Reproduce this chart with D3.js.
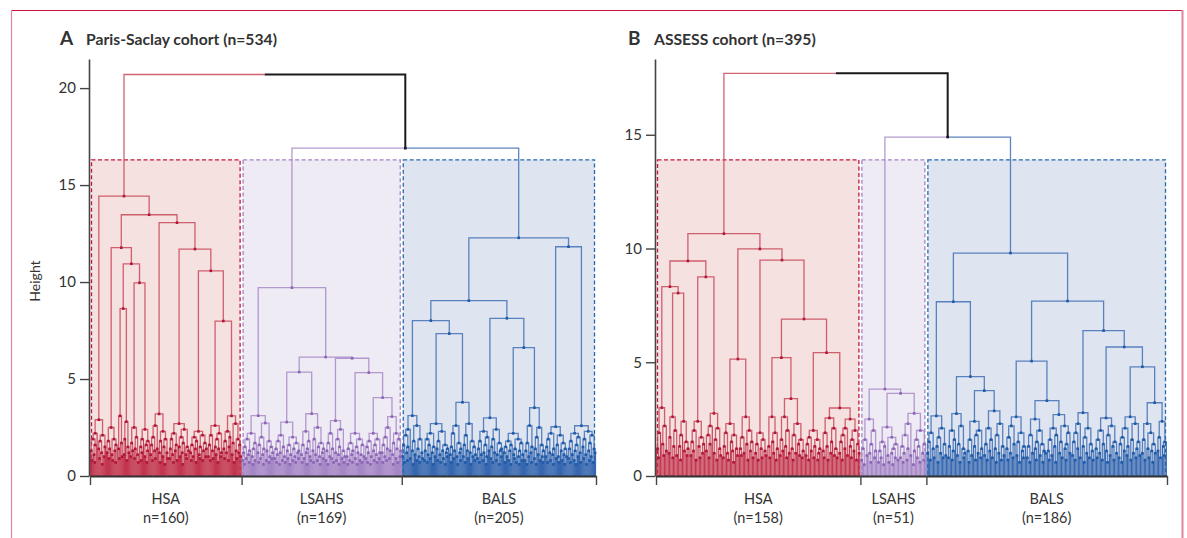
<!DOCTYPE html>
<html>
<head>
<meta charset="utf-8">
<script src="https://cdn.jsdelivr.net/npm/d3@7"></script>
<style>
  body { margin: 0; background: #fff; }
  text { font-family: Lato, "Noto Sans", sans-serif; fill: #333; }
</style>
</head>
<body>
<script>
'use strict';

// ---- data ----------------------------------------------------------------
// every dendrogram is stored as merge heights between neighbouring leaves
// (leaf order), grouped by the small bottom clusters

// panel A : Paris-Saclay cohort
const clustersA = ["HSA", "LSAHS", "BALS"];
const countLabelsA = ["n=160)", "(n=169)", "(n=205)"];
const joinsA = [20.7, 16.9];
const boxTopA = 16.3;
const yTicksA = [0, 5, 10, 15, 20];

const hsaSplitsA = [14.43, 11.77, 8.63, 10.94, 9.96, 13.47, 13.06, 11.7, 10.58, 7.99];
const hsaLowA = [
  [1.3, 0.8, 1.9, 1.1, 0.7, 1.6, 2.2, 2.9, 1.4, 0.9, 1.8, 1.2, 0.6, 2.1, 1.0, 1.5],
  [1.2, 1.8, 0.9, 1.4, 2.5, 1.1, 0.8, 1.9, 1.3, 0.7, 1.6],
  [1.4, 0.9, 3.1, 1.7, 1.0],
  [1.1, 1.9, 2.8, 0.8, 1.5, 1.2],
  [1.0, 1.7, 1.3, 2.5, 0.9, 1.4, 2.0, 1.1, 0.7],
  [1.5, 0.8, 1.2, 1.9, 2.4, 1.0, 1.6, 0.7, 1.3, 1.8],
  [1.1, 1.6, 0.8, 2.0, 1.3, 0.9, 2.6, 1.4, 3.2, 1.2, 0.7, 1.8, 2.3, 1.0, 1.5, 0.6, 1.9, 1.2, 0.9],
  [0.9, 1.4, 1.9, 1.1, 0.7, 2.2, 1.3, 1.6, 0.8, 2.7, 1.5, 1.0, 2.0, 1.2, 0.6, 1.7, 2.4, 1.1, 0.9, 1.5, 1.3],
  [1.2, 0.8, 1.6, 1.0, 2.0, 1.4, 0.7, 1.8, 2.3, 1.1, 0.9, 1.5, 2.1, 0.8, 1.3, 1.7, 1.0, 1.4],
  [1.0, 1.6, 0.8, 2.1, 1.3, 0.9, 2.6, 1.5, 1.1, 1.9, 0.7, 1.4, 2.2, 1.0, 1.2],
  [1.4, 0.9, 1.8, 1.2, 2.3, 0.8, 1.5, 2.0, 3.1, 1.1, 1.7, 0.7, 2.7, 1.3, 0.9, 1.9, 1.2, 1.6, 1.0]
];

const lsahsSplitsA = [9.71, 5.36, 6.13, 6.07, 5.33, 4.04];
const lsahsLowA = [
  [0.8, 1.2, 0.6, 1.5, 0.9, 1.9, 1.1, 0.7, 1.3, 2.2, 1.0, 0.6, 1.4, 0.8, 1.7, 3.11, 1.2, 0.7, 1.6, 0.9, 2.0, 1.1, 0.6, 1.4, 2.73, 0.8, 1.3, 1.8, 0.7, 1.0, 1.5, 0.9, 1.2],
  [0.9, 1.4, 0.7, 1.1, 1.8, 0.6, 1.2, 2.1, 0.8, 1.5, 1.0, 0.7, 2.78, 1.3, 0.9, 1.6, 0.6, 1.1, 2.0, 0.8, 1.4, 1.0, 0.7, 1.7, 1.2, 0.9, 1.3],
  [1.1, 0.7, 1.6, 0.9, 2.3, 1.2, 0.6, 1.4, 1.8, 1.0, 0.8, 3.21, 1.3, 0.7, 1.9, 1.1, 2.5, 0.8, 1.5, 1.0, 0.6, 1.7, 1.2, 0.9, 1.4],
  [0.8, 1.3, 0.6, 1.7, 1.0, 2.2, 0.9, 1.4, 0.7, 2.85, 1.2, 0.8, 1.9, 1.1, 0.6, 1.5, 2.4, 0.9, 1.3, 0.7, 1.0],
  [1.0, 0.6, 1.4, 0.8, 1.7, 1.1, 0.7, 1.3, 2.2, 0.9, 1.5, 0.6, 1.2, 1.9, 0.8, 1.1, 0.7, 1.6, 1.0],
  [0.9, 1.5, 0.7, 1.2, 1.8, 0.6, 1.0, 2.2, 1.3, 0.8, 1.6, 1.1, 0.7, 1.9, 0.9, 1.2],
  [1.2, 0.7, 1.6, 1.0, 2.0, 0.8, 1.4, 2.5, 0.9, 1.3, 3.06, 1.1, 0.6, 1.7, 2.2, 0.9, 1.4, 0.7, 1.9, 1.0, 1.3]
];

const balsSplitsA = [8.01, 7.34, 9.04, 8.13, 6.62, 12.28, 11.82];
const balsLowA = [
  [1.0, 1.6, 0.7, 2.1, 1.2, 0.8, 1.5, 2.4, 0.9, 3.11, 1.3, 0.6, 1.8, 1.1, 2.6, 0.8, 1.4, 1.0, 0.7, 1.9, 1.2, 0.9],
  [0.8, 1.3, 1.9, 0.7, 1.1, 1.6, 0.9, 2.2, 1.2, 0.6, 1.5, 1.0, 2.7, 1.4, 0.8, 1.8, 1.1, 0.7, 2.3, 1.3, 0.9, 1.6, 0.6, 1.2, 1.0, 1.4],
  [1.1, 0.7, 1.5, 2.2, 0.9, 1.3, 2.6, 1.0, 0.6, 1.7, 1.2, 0.8, 1.4, 3.8, 1.0, 1.6, 0.7, 2.1, 1.3, 0.9, 2.7, 1.2, 0.6, 1.8, 1.0, 1.5, 0.8, 1.1],
  [0.9, 1.4, 0.7, 1.8, 1.1, 2.3, 0.8, 1.2, 1.6, 0.6, 1.0, 2.0, 1.3, 3.0, 0.9, 1.5, 0.7, 1.9, 1.2, 2.4, 0.8, 1.1, 1.7, 0.6, 1.3, 1.0, 1.4],
  [1.2, 0.7, 1.5, 1.0, 1.8, 0.8, 1.3, 0.6, 1.6, 2.2, 1.1, 0.9, 1.4, 0.7, 1.9, 1.0, 0.6, 1.3, 1.7, 0.8, 1.1],
  [0.8, 1.3, 0.6, 1.7, 1.0, 2.6, 1.2, 0.7, 1.5, 3.52, 0.9, 1.4, 0.6, 2.0, 1.1, 2.5, 0.8, 1.6, 1.0, 0.7, 1.3],
  [1.0, 1.5, 0.7, 1.9, 1.2, 0.8, 2.2, 1.1, 0.6, 1.4, 2.54, 0.9, 1.6, 1.0, 0.7, 2.1, 1.3, 0.8, 1.7, 1.1, 0.6, 1.4, 1.0],
  [0.9, 1.4, 0.7, 1.8, 1.1, 2.2, 0.8, 1.3, 0.6, 1.6, 1.0, 2.0, 1.2, 0.7, 2.59, 1.5, 0.9, 1.9, 1.1, 0.6, 2.3, 1.3, 0.8, 1.7, 1.0, 2.1, 0.7, 1.4, 1.2]
];

// panel B : ASSESS cohort
const clustersB = ["HSA", "LSAHS", "BALS"];
const countLabelsB = ["(n=158)", "(n=51)", "(n=186)"];
const joinsB = [17.7, 14.9];
const boxTopB = 13.9;
const yTicksB = [0, 5, 10, 15];

const hsaSplitsB = [8.32, 8.04, 9.45, 8.75, 10.65, 5.14, 9.98, 9.49, 5.2, 3.4, 6.9, 5.42, 2.99];
const hsaLowB = [
  [1.2, 0.8, 1.9, 3.0, 1.4, 0.9, 2.2, 1.1],
  [1.0, 1.7, 2.6, 0.8, 1.3, 2.0, 0.9],
  [1.3, 0.7, 1.8, 2.4, 1.1, 1.5, 0.9, 1.2],
  [0.9, 1.5, 1.1, 2.0, 0.7, 2.4, 1.3, 0.8, 1.7, 1.0, 1.4],
  [1.1, 1.8, 0.8, 1.4, 2.2, 2.75, 1.0, 1.6, 0.7, 2.1, 1.2, 0.9],
  [0.8, 1.3, 1.9, 1.0, 0.7, 2.3, 1.5, 1.1, 0.6, 1.8, 1.2, 0.9],
  [1.2, 0.9, 1.7, 1.0, 2.6, 1.4, 0.7, 2.0, 1.1, 1.5, 0.8],
  [1.0, 1.4, 0.7, 1.9, 1.2, 0.8, 1.6, 1.1, 0.9],
  [1.3, 0.8, 2.6, 1.5, 1.0, 1.9, 0.7, 1.2],
  [0.9, 1.6, 1.1, 2.6, 1.3, 0.8, 2.0, 1.0],
  [1.2, 0.7, 1.8, 1.0, 2.3, 1.4, 0.9, 1.6, 0.8, 1.1],
  [0.9, 1.4, 0.7, 1.7, 1.1, 2.0, 0.8, 1.3, 1.6, 0.7, 1.0, 1.2],
  [1.1, 0.8, 1.9, 1.3, 0.7, 2.55, 1.0, 1.5, 2.1, 0.9, 1.2, 0.8],
  [1.0, 1.5, 0.7, 1.8, 1.2, 2.1, 0.9, 2.5, 1.3, 0.8, 1.6, 1.1, 2.0, 0.7, 1.4, 1.0]
];

const lsahsSplitsB = [3.82, 3.63];
const lsahsLowB = [
  [0.7, 1.2, 0.5, 1.6, 0.9, 2.5, 1.0, 0.6, 1.4, 2.0, 0.8, 1.1],
  [0.6, 1.1, 0.8, 1.5, 0.5, 1.3, 2.15, 0.9, 0.6, 1.7, 1.0, 0.5, 1.2, 0.8, 1.4, 0.7],
  [0.8, 1.3, 0.6, 1.0, 1.8, 0.7, 1.2, 2.3, 0.9, 2.75, 0.5, 1.1, 1.6, 0.8, 1.3, 0.6, 2.0, 1.0, 0.7, 1.4]
];

const balsSplitsB = [7.66, 4.37, 3.75, 9.8, 5.05, 3.31, 7.69, 6.39, 5.67, 4.8, 3.22];
const balsLowB = [
  [1.0, 1.5, 0.7, 1.9, 1.2, 0.8, 2.64, 1.3, 0.6, 1.7, 1.0, 2.1, 0.8, 1.4, 0.9],
  [0.8, 1.3, 2.0, 0.7, 1.1, 1.6, 2.74, 0.9, 1.4, 0.6, 2.2, 1.2, 0.8, 1.0],
  [1.1, 0.6, 1.6, 0.9, 2.4, 1.3, 0.7, 1.8, 1.0, 2.0, 0.8, 1.2],
  [0.9, 1.4, 0.7, 2.1, 1.1, 1.6, 0.8, 2.86, 1.2, 0.6, 1.8, 1.0, 2.3, 0.7, 1.3, 0.9],
  [1.2, 0.7, 1.7, 1.0, 2.2, 0.8, 1.4, 2.6, 0.9, 1.5, 0.6, 1.9, 1.1, 0.8, 1.3],
  [0.8, 1.3, 0.6, 1.8, 1.0, 2.5, 1.2, 0.7, 1.5, 2.0, 0.9, 1.4, 0.6, 1.1, 1.0],
  [1.1, 0.7, 1.6, 0.9, 2.1, 1.3, 0.6, 1.8, 2.7, 1.0, 1.5, 0.8, 2.2, 1.2, 0.7, 1.4, 1.9, 1.0],
  [0.9, 1.5, 0.7, 1.9, 1.2, 2.3, 0.8, 2.78, 1.3, 0.6, 1.7, 1.0, 2.1, 0.8, 1.4, 1.1, 0.7],
  [1.2, 0.8, 1.6, 1.0, 2.0, 0.7, 1.4, 2.55, 1.1, 0.6, 1.8, 0.9, 2.2, 1.3, 0.7, 1.5, 1.0],
  [0.8, 1.4, 0.6, 1.7, 1.1, 2.1, 0.9, 1.3, 2.6, 0.7, 1.6, 1.0, 2.3, 0.8, 1.2, 1.5, 0.9],
  [1.0, 1.6, 0.7, 2.3, 1.2, 0.8, 1.9, 1.1, 0.6, 1.4, 1.0],
  [1.1, 1.7, 0.8, 2.4, 1.3, 0.9, 1.5]
];

// ---- styles --------------------------------------------------------------
const lineColors = ["#c9485b", "#a689c7", "#4170b5"];
const leafColors = ["#c0304a", "#a283c4", "#2f62ad"];
const dotColors = ["#b0163a", "#8c64b6", "#1d5aa8"];
const boxFills = ["#f5e1df", "#efebf4", "#dfe5f0"];
const boxStrokes = ["#c2173d", "#a383c5", "#2468b0"];

const svg = d3.select('body')
  .append('svg')
  .attr('width', 1187)
  .attr('height', 538);

// page frame
svg.append('line').attr('x1', 11).attr('x2', 1183).attr('y1', 10.5).attr('y2', 10.5)
  .attr('stroke', '#c8103c').attr('stroke-width', 1);
svg.append('line').attr('x1', 11.5).attr('x2', 11.5).attr('y1', 10).attr('y2', 538)
  .attr('stroke', '#e2849a').attr('stroke-width', 1.2);
svg.append('line').attr('x1', 1182.5).attr('x2', 1182.5).attr('y1', 10).attr('y2', 538)
  .attr('stroke', '#e2849a').attr('stroke-width', 2);

// y axis label (only on the left)
svg.append('text')
  .attr('transform', 'translate(40, 281)rotate(-90)')
  .attr('text-anchor', 'middle')
  .style('font-size', '14px')
  .text('Height');

drawPanel({
  letter: "A", title: "Paris-Saclay cohort (n=534)", titleX: 60,
  clusters: clustersA, counts: countLabelsA, joins: joinsA, boxTop: boxTopA,
  splits: [hsaSplitsA, lsahsSplitsA, balsSplitsA],
  lows: [hsaLowA, lsahsLowA, balsLowA],
  xRange: [90, 596], yMax: 21.5, yTicks: yTicksA
});

drawPanel({
  letter: "B", title: "ASSESS cohort (n=395)", titleX: 628,
  clusters: clustersB, counts: countLabelsB, joins: joinsB, boxTop: boxTopB,
  splits: [hsaSplitsB, lsahsSplitsB, balsSplitsB],
  lows: [hsaLowB, lsahsLowB, balsLowB],
  xRange: [656, 1167], yMax: 18.33, yTicks: yTicksB
});

// join lists of gaps with the heights that separate them
function assemble(between, parts) {
  let out = [];
  parts.forEach((part, i) => {
    out = out.concat(part);
    if (i < between.length) out.push(between[i]);
  });
  return out;
}

// dendrogram from neighbour merge heights: split at the highest one
function build(gaps, lo, hi) {
  if (lo === hi) return { leaf: lo, h: 0 };
  let k = lo;
  for (let i = lo; i < hi; i++) if (gaps[i] > gaps[k]) k = i;
  return { h: gaps[k], children: [build(gaps, lo, k), build(gaps, k + 1, hi)] };
}

function drawPanel(p) {
  const clusterGaps = p.lows.map((low, i) => assemble(p.splits[i], low));
  const sizes = clusterGaps.map(g => g.length + 1);
  const gaps = assemble(p.joins, clusterGaps);
  const n = gaps.length + 1;
  const starts = Array.from(d3.cumsum([0].concat(sizes)));

  const x = d3.scaleLinear().domain([0, n]).range(p.xRange);
  const y = d3.scaleLinear().domain([0, p.yMax]).range([476, 59]);

  const root = d3.hierarchy(build(gaps, 0, n - 1));
  root.eachAfter(d => {
    if (!d.children) {
      d.c = d3.bisectRight(starts, d.data.leaf) - 1;
      d.x = x(d.data.leaf + 0.5);
    } else {
      const cs = d.children.map(k => k.c);
      d.c = cs.every(c => c === cs[0]) ? cs[0] : -1;
      d.x = d3.mean(d.children, k => k.x);
    }
  });

  const g = svg.append('g');

  // cluster boxes
  g.selectAll('rect.box')
    .data(sizes)
    .enter()
    .append('rect')
    .attr('x', (d, i) => x(starts[i]) + 1.5)
    .attr('y', y(p.boxTop))
    .attr('width', (d, i) => x(starts[i + 1]) - x(starts[i]) - 3)
    .attr('height', y(0) - y(p.boxTop))
    .attr('fill', (d, i) => boxFills[i])
    .attr('stroke', (d, i) => boxStrokes[i])
    .attr('stroke-width', 1.3)
    .attr('stroke-dasharray', '4,2.5');

  // elbow links, coloured by the child's cluster
  const links = root.descendants().filter(d => d.parent)
    .sort((a, b) => (a.c === -1) - (b.c === -1));
  g.selectAll('path.link')
    .data(links)
    .enter()
    .append('path')
    .attr('fill', 'none')
    .attr('stroke', d => d.c < 0 ? '#1a1a1a' : (d.children ? lineColors[d.c] : leafColors[d.c]))
    .attr('stroke-width', d => d.c < 0 ? 2 : (d.children ? 1.3 : 1.15))
    .attr('stroke-opacity', d => d.c < 0 ? 1 : (d.children ? 0.85 : 0.95))
    .attr('d', d => 'M' + d.parent.x + ',' + y(d.parent.data.h) +
      'H' + d.x + 'V' + y(d.data.h));

  // node markers
  const nodes = root.descendants().filter(d => d.children && d.parent);
  g.selectAll('rect.node')
    .data(nodes)
    .enter()
    .append('rect')
    .attr('x', d => d.x - 1.3)
    .attr('y', d => y(d.data.h) - 1.3)
    .attr('width', 2.6)
    .attr('height', 2.6)
    .attr('fill', d => d.c < 0 ? '#1a1a1a' : dotColors[d.c]);

  // axes
  const yAxis = d3.axisLeft(y).tickValues(p.yTicks).tickSize(9).tickPadding(4).tickSizeOuter(0);
  const ya = g.append('g')
    .attr('transform', 'translate(' + (p.xRange[0] - 1) + ', 0)')
    .call(yAxis);
  ya.select('.domain').attr('stroke', '#444').attr('stroke-width', 1.6);
  ya.selectAll('.tick line').attr('stroke', '#444').attr('stroke-width', 1.4);
  ya.selectAll('.tick text').style('font-size', '15px').attr('fill', '#333')
    .style('font-family', 'Lato, "Noto Sans", sans-serif');

  const xAxis = d3.axisBottom(x).tickValues(starts).tickSize(9).tickFormat('').tickSizeOuter(0);
  const xa = g.append('g')
    .attr('transform', 'translate(0, 476)')
    .call(xAxis);
  xa.select('.domain').attr('stroke', '#333').attr('stroke-width', 2);
  xa.selectAll('.tick line').attr('stroke', '#444').attr('stroke-width', 1.4);

  // cluster names and sizes
  p.clusters.forEach((name, i) => {
    const cx = x((starts[i] + starts[i + 1]) / 2);
    g.append('text').attr('x', cx).attr('y', 504).attr('text-anchor', 'middle')
      .style('font-size', '14.5px').text(name);
    g.append('text').attr('x', cx).attr('y', 523).attr('text-anchor', 'middle')
      .style('font-size', '14.5px').text(p.counts[i]);
  });

  // panel title
  g.append('text').attr('x', p.titleX).attr('y', 45)
    .style('font-size', '19px').style('font-weight', 'bold').attr('fill', '#222')
    .text(p.letter);
  g.append('text').attr('x', p.titleX + 26).attr('y', 45)
    .style('font-size', '15.7px').style('font-weight', 'bold').attr('fill', '#222')
    .text(p.title);
}
</script>
</body>
</html>
